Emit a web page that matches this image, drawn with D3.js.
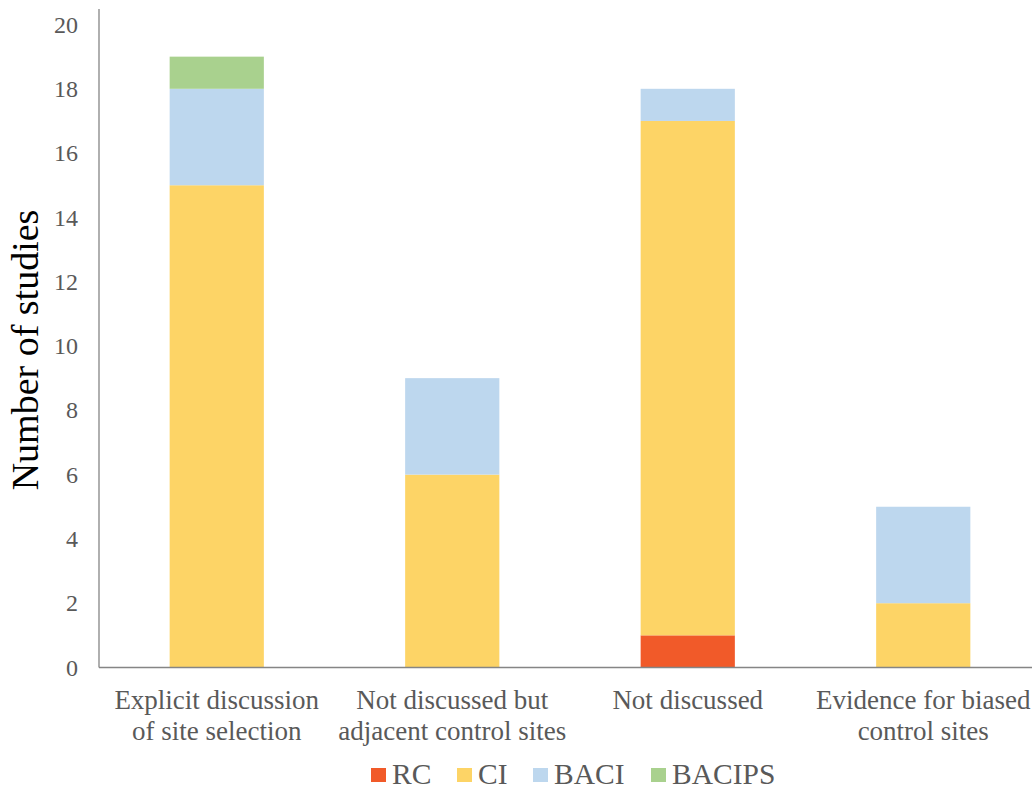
<!DOCTYPE html>
<html><head><meta charset="utf-8">
<script src="https://cdn.jsdelivr.net/npm/d3@7"></script>
<style>body{margin:0;background:#fff;} svg{display:block;} svg text{font-family:"Liberation Serif","Times New Roman",Times,serif;}</style>
</head><body>
<svg id="chart" width="1032" height="790"></svg>
<script>
const categories = [
  ["Explicit discussion", "of site selection"],
  ["Not discussed but", "adjacent control sites"],
  ["Not discussed"],
  ["Evidence for biased", "control sites"]
];
const catKeys = ["c1","c2","c3","c4"];
const seriesNames = ["RC","CI","BACI","BACIPS"];
const seriesColors = ["#F15A29","#FDD466","#BDD7EE","#A9D18E"];
const RC = [0, 0, 1, 0];
const CI = [15, 6, 16, 2];
const BACI = [3, 3, 1, 3];
const BACIPS = [1, 0, 0, 0];
const yTicks = [0,2,4,6,8,10,12,14,16,18,20];

const rows = catKeys.map((k,i)=>({key:k, RC:RC[i], CI:CI[i], BACI:BACI[i], BACIPS:BACIPS[i]}));
const stack = d3.stack().keys(seriesNames)(rows);

const svg = d3.select("#chart");
const textColor = "#595959";
const x0 = 99, baseY = 667.5, topY = 24.5;
const x = d3.scaleBand().domain(catKeys).range([x0, 1041]).paddingInner(0.6).paddingOuter(0.3);
const y = d3.scaleLinear().domain([0,20]).range([baseY, topY]);

// bars
svg.append("g").selectAll("g").data(stack).join("g")
  .attr("fill",(d,i)=>seriesColors[i])
  .selectAll("rect").data(d=>d.map(v=>({v, key:v.data.key}))).join("rect")
  .attr("x",d=>x(d.key))
  .attr("width",x.bandwidth())
  .attr("y",d=>y(d.v[1]))
  .attr("height",d=>y(d.v[0])-y(d.v[1]));

// axes
const yAxis = d3.axisLeft(y).tickValues(yTicks).tickSize(0).tickPadding(21).tickFormat(d3.format("d"));
const gy = svg.append("g").attr("transform",`translate(${x0},0)`).call(yAxis);
gy.select(".domain").remove();
gy.attr("font-family",null).attr("font-size",null);
gy.selectAll("text").style("font-size","24px").attr("fill",textColor);
svg.append("line").attr("x1",x0).attr("x2",x0).attr("y1",9).attr("y2",baseY).attr("stroke","#858585").attr("stroke-width",1.3);
svg.append("line").attr("x1",x0).attr("x2",1032).attr("y1",baseY).attr("y2",baseY).attr("stroke","#858585").attr("stroke-width",1.3);

// category labels
const xl = svg.append("g");
catKeys.forEach((k,i)=>{
  const t = xl.append("text").attr("x",x(k)+x.bandwidth()/2).attr("y",709)
    .attr("text-anchor","middle").style("font-size","27px").attr("fill",textColor);
  categories[i].forEach((line,j)=>{
    t.append("tspan").attr("x",x(k)+x.bandwidth()/2).attr("dy", j===0?0:31).text(line);
  });
});

// y title
svg.append("text").attr("transform","translate(38,350) rotate(-90)")
  .attr("text-anchor","middle").style("font-size","38px").attr("fill","#000")
  .text("Number of studies");

// legend
const legX = [371, 457, 533, 651];
const lg = svg.append("g");
seriesNames.forEach((s,i)=>{
  lg.append("rect").attr("x",legX[i]).attr("y",768).attr("width",15).attr("height",14).attr("fill",seriesColors[i]);
  lg.append("text").attr("x",legX[i]+21).attr("y",784).style("font-size","29.5px").attr("fill",textColor).text(s);
});
</script>
</body></html>
